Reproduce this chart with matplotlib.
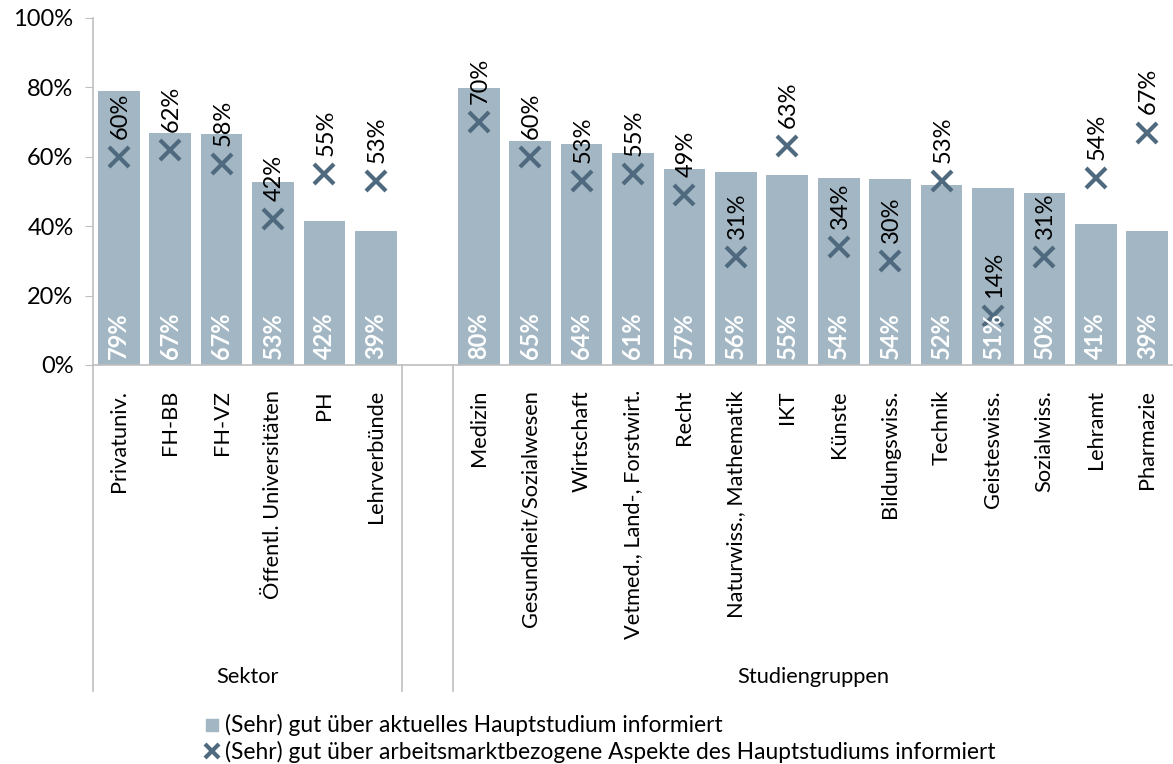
import numpy as np
import matplotlib.pyplot as plt
from matplotlib.lines import Line2D

# Daten
sektor = ['Privatuniv.', 'FH-BB', 'FH-VZ', 'Öffentl. Universitäten', 'PH', 'Lehrverbünde']
studien = ['Medizin', 'Gesundheit/Sozialwesen', 'Wirtschaft', 'Vetmed., Land-, Forstwirt.',
           'Recht', 'Naturwiss., Mathematik', 'IKT', 'Künste', 'Bildungswiss.', 'Technik',
           'Geisteswiss.', 'Sozialwiss.', 'Lehramt', 'Pharmazie']
sektor_aktuell = [79.0, 67.0, 66.6, 52.6, 41.5, 38.6]
studien_aktuell = [79.8, 64.6, 63.6, 61.0, 56.6, 55.5, 54.8, 53.8, 53.6, 52.0, 51.0, 49.7, 40.7, 38.7]
sektor_arbeit = [60, 62, 58, 42, 55, 53]
studien_arbeit = [70, 60, 53, 55, 49, 31, 63, 34, 30, 53, 14, 31, 54, 67]
gruppen = ['Sektor', 'Studiengruppen']
legende = ['(Sehr) gut über aktuelles Hauptstudium informiert',
           '(Sehr) gut über arbeitsmarktbezogene Aspekte des Hauptstudiums informiert']

bar_col = '#a2b6c4'
mark_col = '#4f6a7e'
axis_col = '#bfbfbf'

plt.rcParams['font.family'] = ['Lato', 'DejaVu Sans']

labels = sektor + studien
aktuell = np.array(sektor_aktuell + studien_aktuell) / 100
arbeit = np.array(sektor_arbeit + studien_arbeit) / 100
pos = np.array(list(range(len(sektor))) + list(range(len(sektor) + 1, len(sektor) + 1 + len(studien))))

fig = plt.figure(figsize=(11.73, 7.64), dpi=100)
ax = fig.add_axes([93 / 1173, 1 - 365 / 764, 1 - 93 / 1173, 347 / 764])

ax.bar(pos, aktuell, width=0.81, color=bar_col, zorder=2)
ax.plot(pos, arbeit, linestyle='none', marker='x', markersize=15, markeredgewidth=3,
        color=mark_col, zorder=3)

for x, v in zip(pos, aktuell):
    ax.annotate(f'{round(v * 100):.0f}%', (x, 0), xytext=(0, 4), textcoords='offset points',
                rotation=90, ha='center', va='bottom', color='white', fontsize=17,
                fontweight='bold', zorder=4)
for x, v in zip(pos, arbeit):
    ax.annotate(f'{round(v * 100):.0f}%', (x, v), xytext=(1, 13), textcoords='offset points',
                rotation=90, ha='center', va='bottom', color='black', fontsize=17, zorder=4)

ax.set_xlim(-0.5, pos[-1] + 0.5)
ax.set_ylim(0, 1)
ax.set_yticks(np.arange(0, 1.01, 0.2))
ax.set_yticklabels([f'{t}%' for t in range(0, 101, 20)], fontsize=17)
ax.tick_params(axis='y', length=6, color=axis_col, pad=8)
ax.set_xticks(pos)
ax.set_xticklabels(labels, rotation=90, fontsize=15.7, va='top')
ax.tick_params(axis='x', length=0, pad=18)
for s in ['top', 'right']:
    ax.spines[s].set_visible(False)
for s in ['left', 'bottom']:
    ax.spines[s].set_color(axis_col)
    ax.spines[s].set_linewidth(1.2)

# Gruppentrenner unterhalb der Achse
for xb in [-0.5, len(sektor) - 0.5, len(sektor) + 0.5]:
    ax.plot([xb, xb], [0, -0.94], color=axis_col, lw=1.2, clip_on=False)
ax.text((len(sektor) - 1) / 2, -0.9, gruppen[0], ha='center', va='center', fontsize=15.7)
ax.text((pos[len(sektor)] + pos[-1]) / 2, -0.9, gruppen[1], ha='center', va='center', fontsize=15.7)

handles = [Line2D([], [], linestyle='none', marker='s', markersize=9, color=bar_col),
           Line2D([], [], linestyle='none', marker='x', markersize=10, markeredgewidth=3,
                  color=mark_col)]
fig.legend(handles, legende, loc='upper left', bbox_to_anchor=(193 / 1173, 1 - 703 / 764),
           frameon=False, fontsize=16.4, handlelength=0.7, handletextpad=0.2,
           labelspacing=0.18, borderpad=0)

fig.savefig('out.png', dpi=100)
